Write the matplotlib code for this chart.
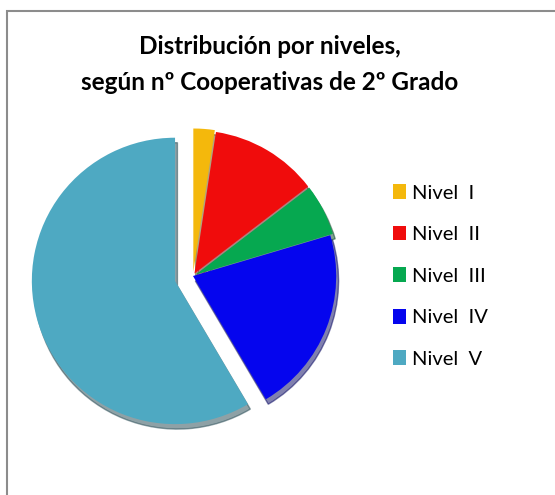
import matplotlib.pyplot as plt
from matplotlib.patches import Rectangle

# share of 2nd-grade cooperatives by level (%)
niveles = ["Nivel  I", "Nivel  II", "Nivel  III", "Nivel  IV", "Nivel  V"]
porcentajes = [2.4, 12.2, 5.8, 21.1, 58.5]
colores = ["#F4B80C", "#F00C0C", "#06A850", "#0505EE", "#4EA9C2"]
separacion = [0.03, 0.02, 0.02, 0.0, 0.13]

fig = plt.figure(figsize=(5.55, 4.95), dpi=100)

# gray chart frame (right and bottom edges fall outside the image)
fig.patches.append(Rectangle((7 / 555, -0.1), 1.2, 1 - 11 / 495 + 0.1,
                             transform=fig.transFigure, fill=False,
                             edgecolor="#8c8c8c", linewidth=1.5))

ax = fig.add_axes([14 / 555, 40 / 495, 358 / 555, 358 / 495])
wedges, _ = ax.pie(porcentajes, colors=colores, explode=separacion,
                   startangle=90, counterclock=False, radius=1,
                   shadow={"ox": 0.012, "oy": -0.025, "shade": 0.6})
ax.set_xlim(-1.25, 1.25)
ax.set_ylim(-1.25, 1.25)
ax.set_aspect("equal")
ax.axis("off")

fig.text(270 / 555, 1 - 47 / 495, "Distribución por niveles,",
         ha="center", va="center", fontsize=17.5, fontweight="bold", family="Lato")
fig.text(270 / 555, 1 - 82 / 495, "según nº Cooperativas de 2º Grado",
         ha="center", va="center", fontsize=17.5, fontweight="bold", family="Lato")

leg = fig.legend(wedges, niveles, loc="upper left",
                 bbox_to_anchor=(375 / 555, 1 - 166 / 495),
                 frameon=False, handlelength=0.65, handleheight=0.75,
                 handletextpad=0.3, labelspacing=1.2,
                 prop={"family": "Lato", "size": 14.5})

fig.savefig("out.png", dpi=100)
